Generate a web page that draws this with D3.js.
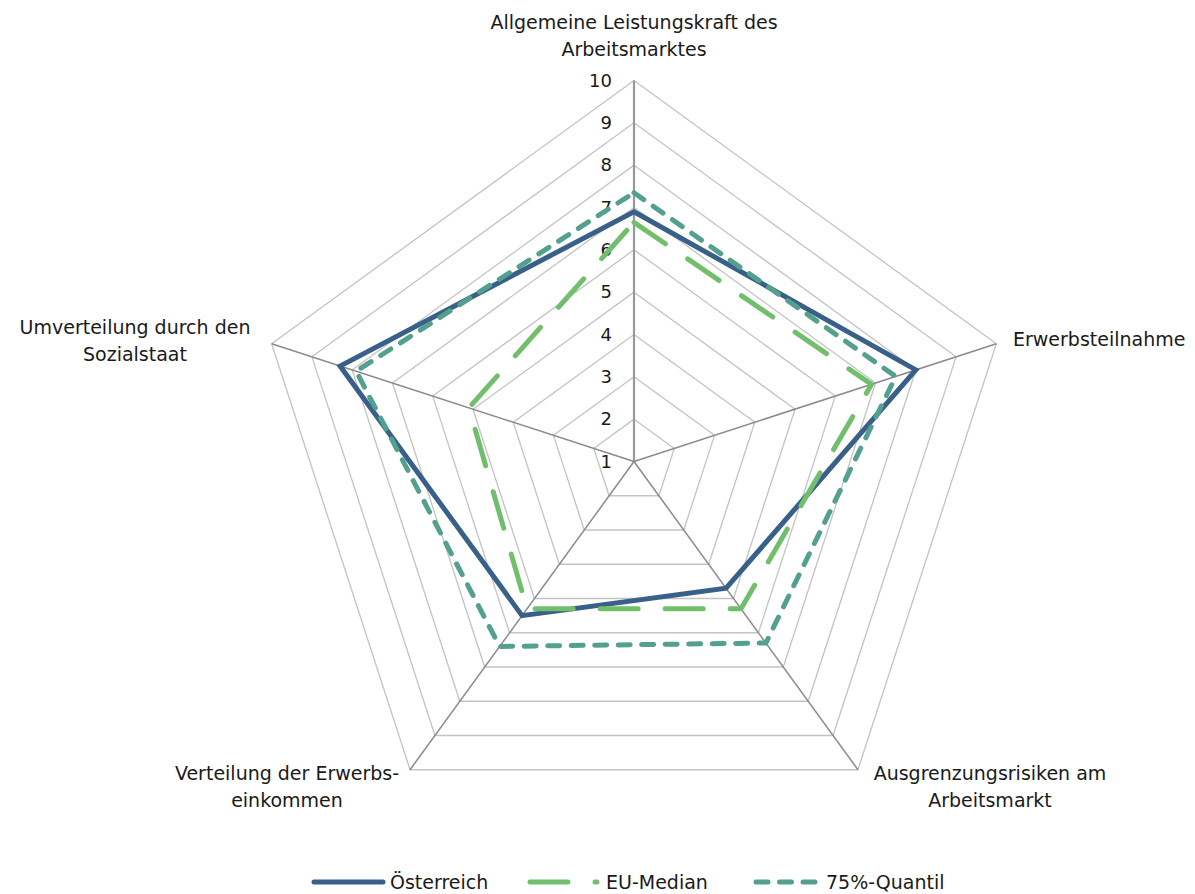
<!DOCTYPE html>
<html>
<head>
<meta charset="utf-8">
<script src="https://cdn.jsdelivr.net/npm/d3@7"></script>
<style>
  html, body { margin: 0; padding: 0; background: #fff; }
  svg text { font-family: "DejaVu Sans", "Noto Sans", sans-serif; fill: #1a1a1a; }
</style>
</head>
<body>
<svg id="chart" width="1195" height="894"></svg>
<script>
// Dimensions of the labour-market radar
const axes = [
  ["Allgemeine Leistungskraft des", "Arbeitsmarktes"],
  ["Erwerbsteilnahme"],
  ["Ausgrenzungsrisiken am", "Arbeitsmarkt"],
  ["Verteilung der Erwerbs-", "einkommen"],
  ["Umverteilung durch den", "Sozialstaat"]
];
const seriesNames = ["Österreich", "EU-Median", "75%-Quantil"];
const oesterreich = [6.9, 8.0, 4.7, 5.5, 8.3];
const euMedian    = [6.65, 6.9, 5.3, 5.3, 5.1];
const quantil75   = [7.35, 7.5, 6.3, 6.4, 7.9];
const tickValues  = [1, 2, 3, 4, 5, 6, 7, 8, 9, 10];

const series = [
  { name: seriesNames[0], values: oesterreich, color: "#386089", dash: null },
  { name: seriesNames[1], values: euMedian,    color: "#71bf6c", dash: "38 27" },
  { name: seriesNames[2], values: quantil75,   color: "#52a08d", dash: "12 11.5" }
];

const svg = d3.select("#chart");
const cx = 634, cy = 461.5;
const r = d3.scaleLinear().domain([1, 10]).range([0, 381]);
const step = 2 * Math.PI / axes.length;
const px = (i, v) => cx + r(v) * Math.sin(i * step);
const py = (i, v) => cy - r(v) * Math.cos(i * step);

const g = svg.append("g").attr("transform", `translate(${cx},${cy})`);

const radial = d3.lineRadial()
  .angle((d, i) => i * step)
  .radius(d => r(d))
  .curve(d3.curveLinearClosed);

// Concentric grid rings
g.selectAll("path.ring")
  .data(tickValues.filter(v => v > 1))
  .join("path")
  .attr("class", "ring")
  .attr("d", v => radial(axes.map(() => v)))
  .attr("fill", "none")
  .attr("stroke", "#c3c3c3")
  .attr("stroke-width", 1.3);

// Spokes
g.selectAll("line.spoke")
  .data(axes)
  .join("line")
  .attr("class", "spoke")
  .attr("x1", 0).attr("y1", 0)
  .attr("x2", (d, i) => px(i, 10) - cx)
  .attr("y2", (d, i) => py(i, 10) - cy)
  .attr("stroke", (d, i) => i === 0 ? "#999" : "#8a8a8a")
  .attr("stroke-width", (d, i) => i === 0 ? 2.2 : 1.5);

// Value ticks on the first axis
g.selectAll("text.tick")
  .data(tickValues)
  .join("text")
  .attr("class", "tick")
  .attr("x", -22)
  .attr("y", v => -r(v))
  .attr("dy", "0.35em")
  .attr("text-anchor", "end")
  .style("font-size", "18px")
  .text(v => v);

// Series polygons
g.selectAll("path.series")
  .data(series)
  .join("path")
  .attr("class", "series")
  .attr("d", s => radial(s.values))
  .attr("fill", "none")
  .attr("stroke", s => s.color)
  .attr("stroke-width", 5)
  .attr("stroke-linejoin", "miter")
  .attr("stroke-linecap", s => s.dash ? "round" : "butt")
  .attr("stroke-dasharray", s => s.dash);

// Category labels
const labelPos = [
  { x: 634,  y: 29,  anchor: "middle" },
  { x: 1013, y: 346, anchor: "start" },
  { x: 990,  y: 780, anchor: "middle" },
  { x: 287,  y: 780, anchor: "middle" },
  { x: 135,  y: 334, anchor: "middle" }
];
axes.forEach((lines, i) => {
  const t = svg.append("text")
    .attr("x", labelPos[i].x)
    .attr("y", labelPos[i].y)
    .attr("text-anchor", labelPos[i].anchor)
    .style("font-size", "19px");
  lines.forEach((line, j) => {
    t.append("tspan")
      .attr("x", labelPos[i].x)
      .attr("dy", j === 0 ? 0 : 27)
      .text(line);
  });
});

// Legend
const legendItems = [
  { x1: 314, x2: 383, tx: 390 },
  { x1: 530, x2: 597, tx: 606 },
  { x1: 756, x2: 818, tx: 826 }
];
const legendY = 882;
const lg = svg.append("g");
series.forEach((s, i) => {
  const p = legendItems[i];
  lg.append("line")
    .attr("x1", p.x1).attr("x2", p.x2)
    .attr("y1", legendY).attr("y2", legendY)
    .attr("stroke", s.color)
    .attr("stroke-width", 5)
    .attr("stroke-linecap", "round")
    .attr("stroke-dasharray", s.dash);
  lg.append("text")
    .attr("x", p.tx)
    .attr("y", legendY)
    .attr("dy", "0.35em")
    .style("font-size", "19px")
    .text(s.name);
});
</script>
</body>
</html>
